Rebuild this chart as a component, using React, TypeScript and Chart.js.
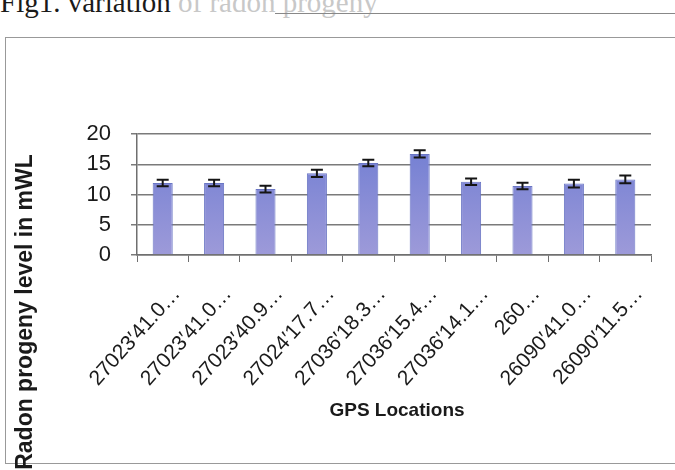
import React, { useEffect, useRef } from "react";
import { Chart, registerables } from "chart.js";

Chart.register(...registerables);

const categories = [
  "27023′41.0…",
  "27023′41.0…",
  "27023′40.9…",
  "27024′17.7…",
  "27036′18.3…",
  "27036′15.4…",
  "27036′14.1…",
  "260…",
  "26090′41.0…",
  "26090′11.5…",
];
const radonLevels = [11.9, 11.9, 10.9, 13.5, 15.2, 16.7, 12.1, 11.4, 11.8, 12.5];
const errorMargins = [0.55, 0.55, 0.55, 0.6, 0.55, 0.6, 0.55, 0.55, 0.65, 0.65];
const yMin = 0;
const yMax = 20;
const yStep = 5;
const yTitle = "Radon progeny level in mWL";
const xTitle = "GPS Locations";
const captionStart = "Fig1. variation";
const captionEnd = " of radon progeny";

const FONT = "'Liberation Sans', Arial, sans-serif";

const errorBarPlugin = {
  id: "errorBars",
  afterDatasetsDraw(chart: any) {
    const meta = chart.getDatasetMeta(0);
    const y = chart.scales.y;
    const ctx = chart.ctx;
    ctx.save();
    ctx.strokeStyle = "#151515";
    ctx.lineWidth = 2;
    meta.data.forEach((bar: any, i: number) => {
      const v = radonLevels[i];
      const e = errorMargins[i];
      const x = bar.x;
      const yt = y.getPixelForValue(v + e);
      const yb = y.getPixelForValue(v - e);
      ctx.beginPath();
      ctx.moveTo(x, yt);
      ctx.lineTo(x, yb);
      ctx.moveTo(x - 6, yt);
      ctx.lineTo(x + 6, yt);
      ctx.moveTo(x - 6, yb);
      ctx.lineTo(x + 6, yb);
      ctx.stroke();
    });
    ctx.restore();
  },
};

const axisTitlePlugin = {
  id: "axisTitles",
  afterDraw(chart: any) {
    const ctx = chart.ctx;
    ctx.save();
    ctx.fillStyle = "#1a1a1a";
    ctx.textAlign = "center";
    ctx.textBaseline = "middle";
    ctx.font = `bold 19px ${FONT}`;
    ctx.fillText(xTitle, 397, 411);
    ctx.font = `bold 23px ${FONT}`;
    ctx.translate(26, 312);
    ctx.rotate(-Math.PI / 2);
    ctx.fillText(yTitle, 0, 0);
    ctx.restore();
  },
};

export default function App() {
  const canvasRef = useRef<HTMLCanvasElement | null>(null);

  useEffect(() => {
    if (!canvasRef.current) return;
    const chart = new Chart(canvasRef.current, {
      type: "bar",
      data: {
        labels: categories,
        datasets: [
          {
            data: radonLevels,
            backgroundColor: (c: any) => {
              const ca = c.chart.chartArea;
              if (!ca) return "#7f88d2";
              const g = c.chart.ctx.createLinearGradient(0, ca.top, 0, ca.bottom);
              g.addColorStop(0, "#6e7cd2");
              g.addColorStop(1, "#9d9ad9");
              return g;
            },
            borderColor: "#6a76c4",
            borderWidth: 1,
            barPercentage: 0.39,
            categoryPercentage: 1,
          },
        ],
      },
      options: {
        animation: false,
        responsive: false,
        maintainAspectRatio: false,
        layout: { padding: { top: 134, right: 24, left: 0, bottom: 0 } },
        plugins: { legend: { display: false }, tooltip: { enabled: false } },
        scales: {
          x: {
            grid: {
              display: true,
              drawOnChartArea: false,
              drawTicks: true,
              tickLength: 7,
              color: "#6f6f6f",
              offset: true,
            },
            border: { color: "#6f6f6f", width: 1.5 },
            ticks: {
              autoSkip: false,
              minRotation: 48,
              maxRotation: 48,
              labelOffset: 14,
              font: { family: FONT, size: 21 },
              color: "#1a1a1a",
              padding: 20,
            },
            afterFit: (s: any) => {
              s.height = 470 - 255;
            },
          },
          y: {
            min: yMin,
            max: yMax,
            ticks: {
              stepSize: yStep,
              font: { family: FONT, size: 22 },
              color: "#1a1a1a",
              padding: 20,
            },
            grid: { color: "#7a7a7a", lineWidth: 1.5, tickLength: 6 },
            border: { color: "#6f6f6f", width: 1.5 },
            afterFit: (s: any) => {
              s.width = 137;
            },
          },
        },
      },
      plugins: [errorBarPlugin, axisTitlePlugin],
    });
    return () => chart.destroy();
  }, []);

  return (
    <div
      style={{
        position: "fixed",
        left: 0,
        top: 0,
        width: 675,
        height: 470,
        overflow: "hidden",
        background: "#fff",
      }}
    >
      <div
        style={{
          position: "absolute",
          left: 0,
          top: -12,
          fontFamily: "'Liberation Serif', 'Times New Roman', serif",
          fontSize: 29,
          lineHeight: "29px",
          color: "#1a1a1a",
          whiteSpace: "nowrap",
        }}
      >
        {captionStart}
        <span style={{ color: "#c8c8c8" }}>{captionEnd}</span>
      </div>
      <div
        style={{
          position: "absolute",
          left: 275,
          top: 13,
          width: 400,
          height: 0,
          borderTop: "1px solid #888",
        }}
      />
      <div
        style={{
          position: "absolute",
          left: 5,
          top: 37,
          width: 700,
          height: 425,
          border: "1.5px solid #999",
        }}
      />
      <canvas
        ref={canvasRef}
        width={675}
        height={470}
        style={{ position: "absolute", left: 0, top: 0, display: "block" }}
      />
    </div>
  );
}
